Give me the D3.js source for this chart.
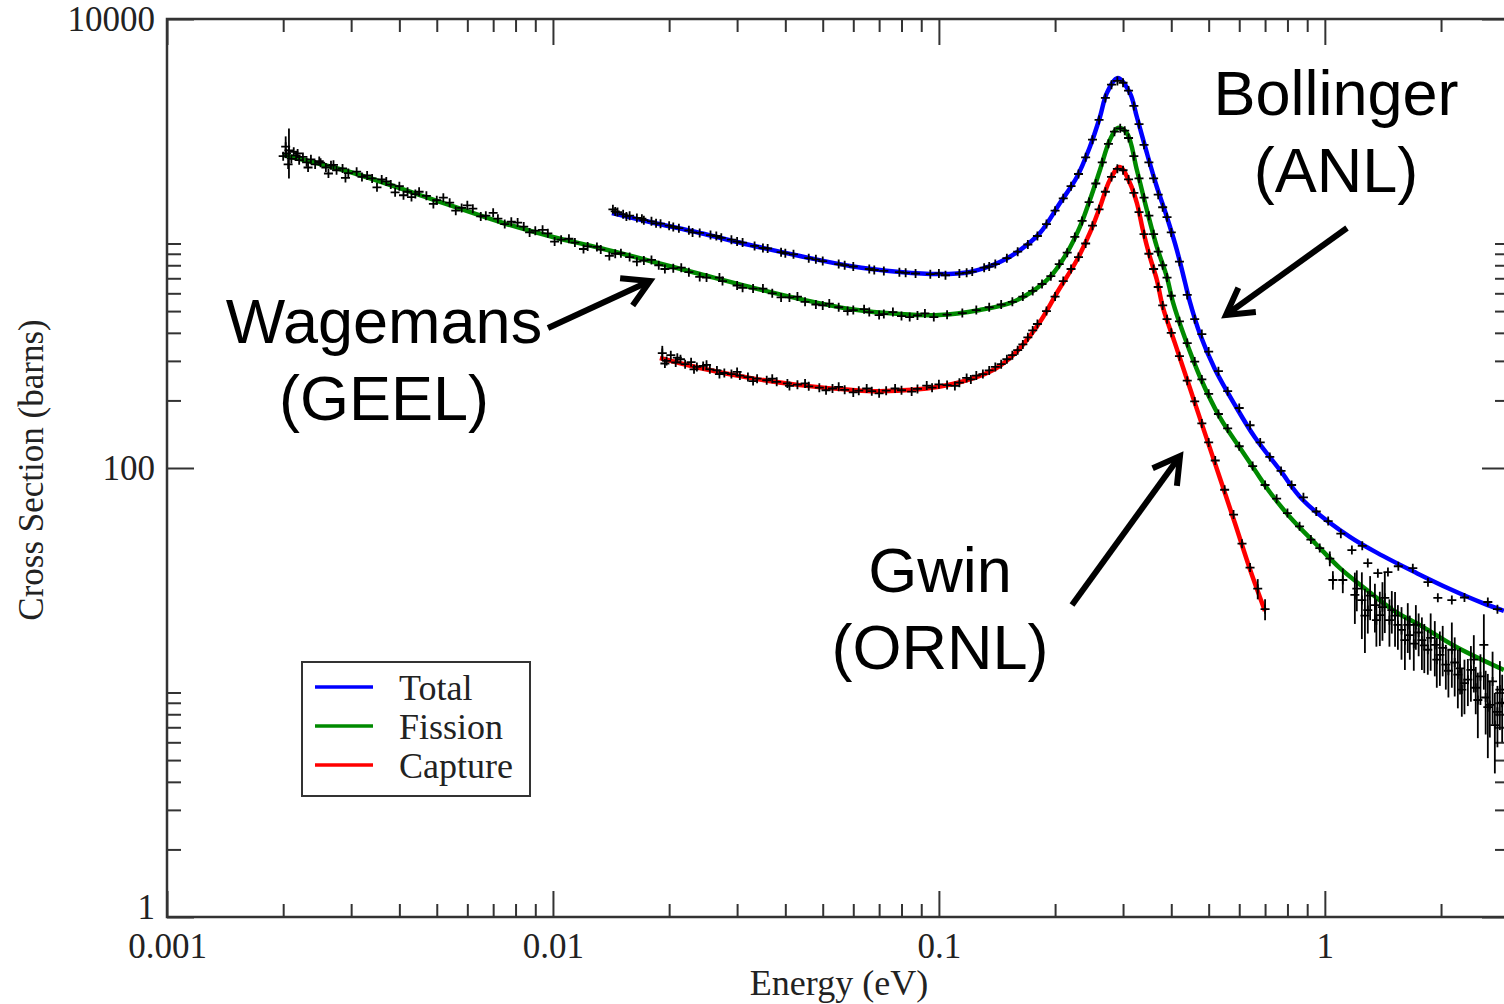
<!DOCTYPE html>
<html>
<head>
<meta charset="utf-8">
<script src="https://cdn.jsdelivr.net/npm/d3@7"></script>
<style>
  body { margin: 0; background: #fff; }
  svg { display: block; }
</style>
</head>
<body>
<main></main>
<script>
// ---- axis ticks ----
const energyMajor = [0.001, 0.01, 0.1, 1]
const energyMinor = [2,3,4,5,6,7,8,9].flatMap(k => [k * 0.001, k * 0.01, k * 0.1, k])
const xsMajor = [1, 100, 10000]
const xsMinor = [2,3,4,5,6,7,8,9,10, 200,300,400,500,600,700,800,900,1000]

// ---- evaluated curves (energy in eV, cross section in barns) ----
const totalE = [0.01422,0.01784,0.02403,0.03238,0.04363,0.05881,0.07925,0.1,0.1203,0.1439,0.1622,0.1827,0.2059,0.2278,0.2461,0.2614,0.2724,0.2909,0.3125,0.3258,0.3458,0.3671,0.3897,0.4136,0.4338,0.447,0.4746,0.5188,0.5846,0.6585,0.7647,0.877,1.161,1.413,1.731,2.108,2.567,2.909]
const totalXS = [1367,1247,1114,985,880,794,747,731,747,827,935,1114,1515,1978,2690,3660,4682,5460,4682,3660,2531,1785,1312,935,675,549,395,276,191,137,98,72,49.3,40.6,34.0,28.9,25.0,23.1]

const fissionE = [0.002,0.00298,0.00452,0.00729,0.01,0.01324,0.01784,0.02403,0.03238,0.04363,0.05881,0.07925,0.1,0.1277,0.1527,0.1721,0.194,0.2146,0.2319,0.2461,0.2614,0.2773,0.2909,0.3069,0.3258,0.3458,0.3671,0.3897,0.4038,0.4338,0.4746,0.5346,0.6023,0.6585,0.7205,0.8116,0.9534,1.094,1.285,1.501,1.794,2.198,2.909]
const fissionXS = [2479,2082,1644,1247,1069,955,836,731,640,566,511,485,480,506,543,602,709,907,1185,1562,2125,2891,3270,3105,2125,1410,965,709,550,380,255,168,123,98,78,60.5,45.4,35.8,28.6,23.3,19.6,15.9,12.6]

const captureE = [0.01893,0.02403,0.03238,0.04363,0.05881,0.07034,0.1,0.1277,0.1439,0.1622,0.1827,0.2021,0.2278,0.2461,0.2614,0.2773,0.2943,0.3125,0.3258,0.3377,0.3521,0.3671,0.3804,0.4088,0.447,0.4888,0.5346,0.5846,0.6393,0.6994]
const captureXS = [309,279,252,234,223,220,230,257,285,342,447,602,844,1114,1454,1918,2192,1860,1515,1148,871,688,521,360,227,143,90.3,56.9,35.5,23.1]

// ---- measurements [E, xs, err] ----
const wagemansFission = [[0.00207,2600,650],[0.002,2450],[0.00203,2700,300],[0.00204,2520],[0.00206,2250],[0.0021,2380],[0.00213,2560],[0.00216,2470],[0.00218,2520],[0.0022,2350],[0.00225,2430],[0.0023,2300],[0.00232,2180],[0.00236,2370],[0.00242,2250],[0.00248,2330],[0.0025,2290],[0.00258,2180],[0.00262,2050],[0.00266,2230],[0.0027,2240],[0.00275,2120],[0.00285,2160],[0.0029,1960],[0.00295,2060],[0.0031,2090],[0.0032,1980],[0.0033,2010],[0.0034,1950],[0.0035,1780],[0.0036,1930],[0.0037,1890],[0.0038,1830],[0.0039,1690],[0.004,1800],[0.0041,1640],[0.0042,1700],[0.0043,1610],[0.0044,1660],[0.0045,1700],[0.0047,1630],[0.0049,1500],[0.005,1560],[0.0052,1600],[0.0054,1520],[0.0056,1400],[0.0058,1440],[0.006,1480],[0.0062,1430],[0.0065,1320],[0.0067,1330],[0.007,1370],[0.0072,1290],[0.0075,1220],[0.0078,1250],[0.0081,1240],[0.0084,1190],[0.0087,1120],[0.009,1140],[0.0094,1150],[0.0097,1110],[0.0101,1020],[0.0105,1040],[0.011,1050],[0.0114,1010],[0.012,945],[0.0123,970],[0.013,965],[0.0133,940],[0.014,880],[0.0145,900],[0.015,905],[0.0158,870],[0.0165,830],[0.0172,840],[0.018,845],[0.0188,800],[0.0195,770],[0.0205,775],[0.0215,780],[0.0225,745],[0.024,710],[0.025,705],[0.027,705],[0.0275,680],[0.03,650],[0.031,635],[0.033,630],[0.035,630],[0.037,600],[0.039,575],[0.041,575],[0.043,580],[0.045,550],[0.048,535],[0.05,530],[0.052,540],[0.055,520],[0.058,500],[0.06,505],[0.064,510],[0.066,495],[0.07,480],[0.072,485],[0.076,495],[0.08,475],[0.084,470],[0.088,478],[0.092,488],[0.097,470]]

const fissionPeak = [[0.105,482],[0.115,490],[0.125,505],[0.135,520],[0.145,535],[0.155,550],[0.165,580],[0.175,615],[0.185,660],[0.195,715],[0.205,810],[0.215,910],[0.225,1070],[0.235,1260],[0.245,1530],[0.255,1850],[0.265,2300],[0.275,2780],[0.285,3150],[0.295,3260],[0.303,3180],[0.31,2950],[0.32,2450],[0.33,1950],[0.34,1600],[0.35,1330],[0.36,1100],[0.37,920],[0.38,800],[0.39,705],[0.4,585],[0.42,450],[0.44,360],[0.46,298],[0.48,248],[0.5,214],[0.53,174],[0.56,150],[0.6,125],[0.65,102],[0.7,84],[0.75,73],[0.8,63],[0.86,55],[0.92,48],[0.97,44],[1.03,39.5,3],[1.049,31.7,3],[1.113,31.7,4]]

const fissionHigh = [[1.196,27.2,7],[1.21,29,6],[1.247,25.8,8.5],[1.27,22,7],[1.292,23.3,5],[1.31,27,6],[1.348,24.5,6],[1.36,21,5],[1.388,22.1,6],[1.41,24,7],[1.43,26.4,8],[1.47,21,5],[1.491,23.3,5],[1.52,22,6],[1.546,20,4.5],[1.58,19,5],[1.612,17.1,4.5],[1.64,20,5],[1.66,18,4],[1.7,16.5,4],[1.721,20,4.5],[1.75,18.5,4],[1.784,17.1,4.5],[1.81,16.2,4],[1.848,15.5,3.5],[1.88,17.5,5],[1.927,16.3,4.5],[1.95,14,3.5],[1.986,14.7,4],[2.02,15.8,4],[2.058,13.3,3],[2.09,12.5,3],[2.133,15.5,5],[2.17,13.6,4],[2.211,12,3.5],[2.24,12.8,3],[2.264,10.3,2.5],[2.3,11,3],[2.347,11.4,2.7],[2.39,12.6,3.5],[2.432,14,4],[2.46,10.5,2.5],[2.491,9.26,3],[2.53,11.8,3],[2.582,16.3,6],[2.61,9.5,3],[2.644,8.6,3.5],[2.676,8.8,2.5],[2.72,11.2,4],[2.757,7.16,2.8],[2.8,8.2,2.5],[2.841,10.3,3.5],[2.88,9,3]]

const bollingerTotal = [[0.0143,1420],[0.0145,1390,40],[0.0147,1380],[0.0152,1350],[0.0155,1320],[0.0158,1330],[0.0165,1300],[0.017,1290],[0.0172,1270],[0.018,1255],[0.0185,1230],[0.019,1225],[0.02,1200],[0.0205,1185],[0.0212,1170],[0.0225,1145],[0.023,1120],[0.024,1115],[0.0256,1090],[0.0265,1080],[0.0273,1060],[0.029,1040],[0.03,1020],[0.031,1010],[0.0333,975],[0.035,955],[0.036,950],[0.039,915],[0.04,905],[0.042,895],[0.046,860],[0.048,850],[0.05,835],[0.055,810],[0.057,800],[0.06,790],[0.066,770],[0.068,762],[0.072,755],[0.079,745],[0.082,740],[0.087,735],[0.095,730],[0.1,735],[0.104,722],[0.113,735],[0.118,740],[0.122,750],[0.131,780],[0.135,790],[0.14,810],[0.15,860],[0.16,920],[0.17,990],[0.18,1080],[0.19,1220],[0.2,1400],[0.21,1590],[0.22,1800],[0.23,2040],[0.24,2420],[0.25,2900],[0.26,3550],[0.27,4450],[0.28,5100],[0.29,5300],[0.3,5200],[0.31,4800],[0.32,4100],[0.33,3400],[0.34,2750],[0.35,2300],[0.36,1950],[0.37,1650],[0.38,1450],[0.39,1310],[0.4,1120],[0.42,830],[0.44,590],[0.46,460],[0.48,395],[0.5,330],[0.53,270],[0.56,220],[0.6,185],[0.64,155],[0.68,130],[0.72,112],[0.77,97],[0.82,84],[0.88,74],[0.95,64],[1.02,58],[1.1,51],[1.175,43.1],[1.25,45],[1.292,37.7],[1.372,34],[1.457,34.4],[1.55,36.5],[1.69,35.8],[1.85,31],[1.962,26.4],[2.133,25.8],[2.3,26.5],[2.644,25.3],[2.8,23.5]]

const gwinCapture = [[0.0192,325,25],[0.0195,292],[0.0197,300],[0.0202,318],[0.0208,295],[0.021,310],[0.0214,305],[0.022,290],[0.0228,296],[0.0232,275],[0.0236,282],[0.0245,285],[0.025,288],[0.0255,275],[0.0266,272],[0.027,262],[0.0278,265],[0.029,262],[0.03,268],[0.0305,258],[0.032,254],[0.033,244],[0.0338,250],[0.0358,246],[0.037,250],[0.038,242],[0.0405,238],[0.041,232],[0.043,235],[0.045,238],[0.046,231],[0.049,228],[0.051,222],[0.053,226],[0.055,230],[0.057,223],[0.06,217],[0.062,221],[0.065,226],[0.067,220],[0.07,215],[0.073,221],[0.077,226],[0.08,222],[0.085,219],[0.088,225],[0.093,233],[0.096,228],[0.1,236],[0.105,234],[0.11,232],[0.113,240],[0.118,252],[0.121,248],[0.125,258],[0.13,262],[0.135,272],[0.14,282],[0.145,290],[0.15,305],[0.155,318],[0.16,335],[0.165,355],[0.17,382],[0.175,410],[0.18,438],[0.19,500],[0.2,580],[0.21,680],[0.22,770],[0.23,870],[0.24,1000],[0.25,1200],[0.26,1420],[0.27,1700],[0.28,1980],[0.29,2150],[0.3,2120],[0.31,1930],[0.32,1680],[0.33,1380],[0.34,1100],[0.35,900],[0.36,770],[0.37,640],[0.38,530],[0.39,460],[0.4,400],[0.42,315],[0.44,245],[0.46,198],[0.48,158],[0.5,130],[0.52,108],[0.55,80],[0.58,62],[0.61,46],[0.64,36],[0.67,29,3],[0.7,23.5,2.5]]

// ---- layout ----
const width = 1504, height = 1004
const plot = { left: 167, top: 19, right: 1509, bottom: 917 }

let svg = d3.select("main").append("svg")
    .attr("width", width)
    .attr("height", height)

let x = d3.scaleLog().domain([0.001, 3]).range([plot.left, plot.right])
let y = d3.scaleLog().domain([1, 10000]).range([plot.bottom, plot.top])

const serif = "'Liberation Serif', 'Times New Roman', serif"
const sans = "'Liberation Sans', Arial, sans-serif"
const axisColor = "#333"

// ticks on all four sides, pointing inward
function ticks(axis, vals, size, labels) {
    return axis.tickValues(vals).tickSize(size)
        .tickFormat(labels ? d3.format("~g") : "")
}
let gAxes = svg.append("g")
gAxes.append("g").attr("transform", `translate(0,${plot.bottom})`)
    .call(ticks(d3.axisBottom(x), energyMinor, -13, false))
let xLab = gAxes.append("g").attr("transform", `translate(0,${plot.bottom})`)
    .call(ticks(d3.axisBottom(x), energyMajor, -26, true).tickPadding(16))
gAxes.append("g").attr("transform", `translate(0,${plot.top})`)
    .call(ticks(d3.axisTop(x), energyMinor, -13, false))
gAxes.append("g").attr("transform", `translate(0,${plot.top})`)
    .call(ticks(d3.axisTop(x), energyMajor, -26, false))
gAxes.append("g").attr("transform", `translate(${plot.left},0)`)
    .call(ticks(d3.axisLeft(y), xsMinor, -14, false))
let yLab = gAxes.append("g").attr("transform", `translate(${plot.left},0)`)
    .call(ticks(d3.axisLeft(y), xsMajor, -27, true).tickPadding(12))
gAxes.append("g").attr("transform", `translate(${plot.right},0)`)
    .call(ticks(d3.axisRight(y), xsMinor, -14, false))
gAxes.append("g").attr("transform", `translate(${plot.right},0)`)
    .call(ticks(d3.axisRight(y), xsMajor, -27, false))

gAxes.selectAll(".domain").remove()
gAxes.selectAll(".tick line").attr("stroke", axisColor).attr("stroke-width", 2)
gAxes.selectAll(".tick text")
    .attr("font-family", serif)
    .attr("font-size", 35)
    .attr("fill", "#222")
// the "1" sits in the corner just above "0.001"
yLab.selectAll(".tick text").filter(d => d === 1).attr("dy", "0.05em")

svg.append("rect")
    .attr("x", plot.left).attr("y", plot.top)
    .attr("width", plot.right - plot.left).attr("height", plot.bottom - plot.top)
    .attr("fill", "none").attr("stroke", axisColor).attr("stroke-width", 2.5)

svg.append("text")
    .attr("x", 839).attr("y", 995)
    .attr("text-anchor", "middle")
    .attr("font-family", serif).attr("font-size", 36).attr("fill", "#222")
    .text("Energy (eV)")

svg.append("text")
    .attr("transform", "translate(43,470) rotate(-90)")
    .attr("text-anchor", "middle")
    .attr("font-family", serif).attr("font-size", 35).attr("fill", "#222")
    .text("Cross Section (barns)")

// ---- curves ----
let line = d3.line()
    .x(d => x(d[0]))
    .y(d => y(d[1]))
    .curve(d3.curveCatmullRom)

const curves = [
    { name: "Total", color: "#0000ff", E: totalE, XS: totalXS },
    { name: "Fission", color: "#008a00", E: fissionE, XS: fissionXS },
    { name: "Capture", color: "#ff0000", E: captureE, XS: captureXS }
]

svg.append("g").selectAll("path")
    .data(curves)
    .enter().append("path")
    .attr("d", c => line(c.E.map((e, i) => [e, c.XS[i]])))
    .attr("fill", "none")
    .attr("stroke", c => c.color)
    .attr("stroke-width", 4.5)

// ---- measured points ----
let points = [].concat(wagemansFission, fissionPeak, fissionHigh, bollingerTotal, gwinCapture)
let gPts = svg.append("g").attr("stroke", "#000").attr("stroke-width", 1.8)

gPts.selectAll("line.err")
    .data(points.filter(p => p[2]))
    .enter().append("line")
    .attr("class", "err")
    .attr("x1", d => x(d[0])).attr("x2", d => x(d[0]))
    .attr("y1", d => y(d[1] + d[2])).attr("y2", d => y(Math.max(d[1] - d[2], 0.5)))

gPts.selectAll("path.mark")
    .data(points)
    .enter().append("path")
    .attr("class", "mark")
    .attr("d", d => {
        let px = x(d[0]), py = y(d[1]), s = 4.5
        return `M${px - s},${py}H${px + s}M${px},${py - s}V${py + s}`
    })

// ---- legend ----
let legend = svg.append("g")
legend.append("rect")
    .attr("x", 302).attr("y", 662).attr("width", 228).attr("height", 134)
    .attr("fill", "#fff").attr("stroke", axisColor).attr("stroke-width", 2)
curves.forEach((c, i) => {
    let ly = 687 + i * 39
    legend.append("line")
        .attr("x1", 315).attr("x2", 373).attr("y1", ly).attr("y2", ly)
        .attr("stroke", c.color).attr("stroke-width", 3.5)
    legend.append("text")
        .attr("x", 399).attr("y", ly + 13)
        .attr("font-family", serif).attr("font-size", 36).attr("fill", "#222")
        .text(c.name)
})

// ---- annotations ----
const notes = [
    { lines: ["Bollinger", "(ANL)"], x: 1336, y: 115, from: [1347, 228], to: [1226, 315] },
    { lines: ["Wagemans", "(GEEL)"], x: 384, y: 343, from: [548, 328], to: [650, 281] },
    { lines: ["Gwin", "(ORNL)"], x: 940, y: 592, from: [1072, 605], to: [1180, 456] }
]

let gNotes = svg.append("g")
notes.forEach(n => {
    n.lines.forEach((t, i) => {
        gNotes.append("text")
            .attr("x", n.x).attr("y", n.y + i * 77)
            .attr("text-anchor", "middle")
            .attr("font-family", sans).attr("font-size", 63)
            .text(t)
    })
    let [x0, y0] = n.from, [x1, y1] = n.to
    let ang = Math.atan2(y1 - y0, x1 - x0), len = 30, spread = Math.PI / 6
    let b1 = [x1 - len * Math.cos(ang - spread), y1 - len * Math.sin(ang - spread)]
    let b2 = [x1 - len * Math.cos(ang + spread), y1 - len * Math.sin(ang + spread)]
    gNotes.append("line")
        .attr("x1", x0).attr("y1", y0).attr("x2", x1).attr("y2", y1)
        .attr("stroke", "#000").attr("stroke-width", 6)
    gNotes.append("path")
        .attr("d", `M${b1}L${x1},${y1}L${b2}`)
        .attr("fill", "none").attr("stroke", "#000").attr("stroke-width", 6)
        .attr("stroke-linejoin", "miter")
})
</script>
</body>
</html>
